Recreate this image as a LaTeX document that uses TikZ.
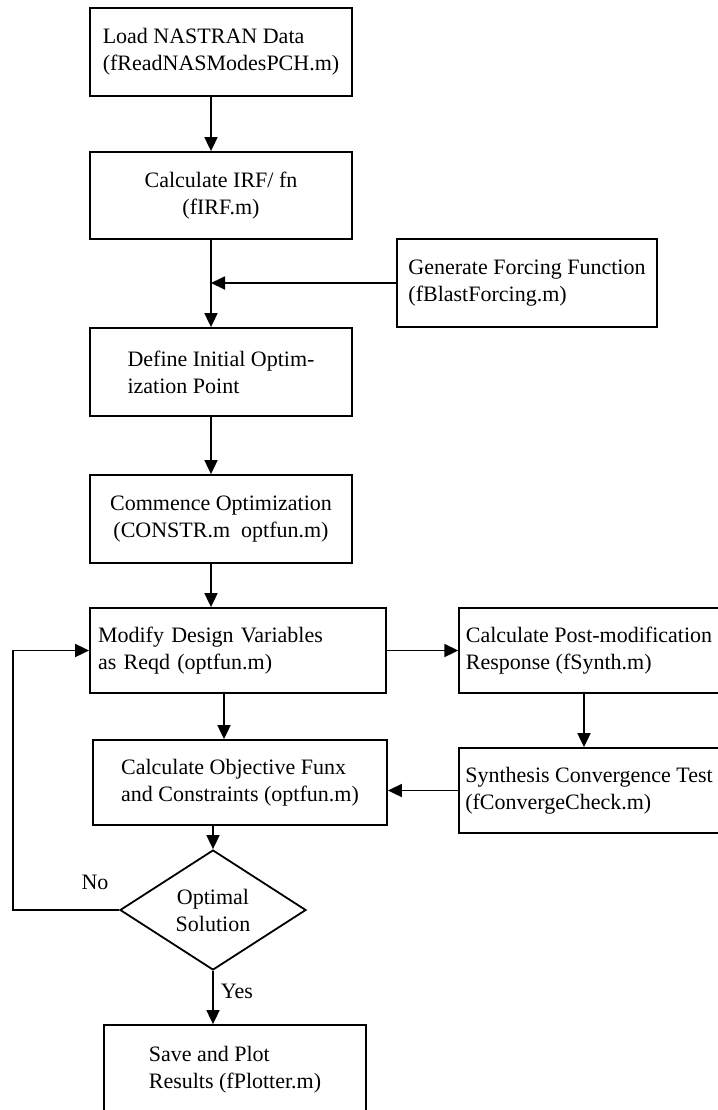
\documentclass[tikz,border=0pt]{standalone}
\usepackage{fontspec}
\setmainfont{Liberation Serif}
\usetikzlibrary{positioning, arrows.meta, shapes.geometric, calc}

\def\raster{0.5pt}
\newcommand{\boxfont}{\fontsize{11pt}{13.5pt}\selectfont}

\tikzset{
    procbox/.style={draw, rectangle, line width=0.9pt, inner ysep=0pt, font=\boxfont},
    choice/.style={draw, diamond, line width=0.9pt, inner sep=0pt, align=center, font=\boxfont,
        minimum width=186*\raster, minimum height=120*\raster},
    flow/.style={line width=0.9pt, -{Triangle[length=7pt, width=6.5pt]}},
    lbl/.style={inner sep=0pt, font=\boxfont}
}

\begin{document}
\begin{tikzpicture}[x=\raster, y=-\raster]
    \useasboundingbox (0,0) rectangle (718,1110);

    % main column
    \node[procbox, align=left, minimum width=262*\raster, minimum height=88*\raster]
        (load) at (221,52) {Load NASTRAN Data\\(fReadNASModesPCH.m)};
    \node[procbox, align=center, minimum width=262*\raster, minimum height=87*\raster]
        (irf) at (221,195.5) {Calculate IRF/ fn\\(fIRF.m)};
    \node[procbox, align=left, minimum width=262*\raster, minimum height=88*\raster]
        (define) at (221,372) {Define Initial Optim-\\ization Point};
    \node[procbox, align=center, minimum width=262*\raster, minimum height=88*\raster]
        (commence) at (221,519) {Commence Optimization\\(CONSTR.m~~optfun.m)};
    \node[procbox, align=left, text width=280*\raster, inner xsep=8*\raster, minimum height=85*\raster]
        (modify) at (238,650.5) {Modify Design Variables\\as Reqd (optfun.m)};
    \node[procbox, align=left, minimum width=294*\raster, minimum height=85*\raster]
        (obj) at (240,782.5) {Calculate Objective Funx\\and Constraints (optfun.m)};
    \node[choice] (opt) at (213,910) {Optimal\\Solution};
    \node[procbox, align=left, minimum width=262*\raster, minimum height=90*\raster]
        (save) at (235,1070) {Save and Plot\\Results (fPlotter.m)};

    % side boxes
    \node[procbox, align=left, minimum width=260*\raster, minimum height=88*\raster]
        (gen) at (527,283) {Generate Forcing Function\\(fBlastForcing.m)};
    \node[procbox, align=left, minimum width=254*\raster, minimum height=85*\raster]
        (post) at (589,650.5) {Calculate Post-modification\\Response (fSynth.m)};
    \node[procbox, align=left, minimum width=254*\raster, minimum height=85*\raster]
        (synth) at (589,790.5) {Synthesis Convergence Test\\(fConvergeCheck.m)};

    % columns for the connectors
    \coordinate (spine) at (211,0);
    \coordinate (midcol) at (224,0);
    \coordinate (sidecol) at (584,0);
    \coordinate (loopx) at (13,0);

    \draw[flow] (load.south -| spine) -- (irf.north -| spine);
    \draw[flow] (irf.south -| spine) -- (define.north -| spine);
    \draw[flow] (gen.west) -- (gen.west -| spine);
    \draw[flow] (define.south -| spine) -- (commence.north -| spine);
    \draw[flow] (commence.south -| spine) -- (modify.north -| spine);
    \draw[flow] (modify.south -| midcol) -- (obj.north -| midcol);
    \draw[flow] (modify.east) -- (post.west);
    \draw[flow] (post.south -| sidecol) -- (synth.north -| sidecol);
    \draw[flow] (synth.west) -- (synth.west -| obj.east);
    \draw[flow] (obj.south -| opt.north) -- (opt.north);
    \draw[flow] (opt.south) -- (save.north -| opt.south);
    \draw[flow] (opt.west) -- (opt.west -| loopx) |- (modify.west);

    % branch labels
    \node[lbl] (nolbl) at (95,882) {No};
    \node[lbl] (yeslbl) at (237,991) {Yes};
\end{tikzpicture}
\end{document}
